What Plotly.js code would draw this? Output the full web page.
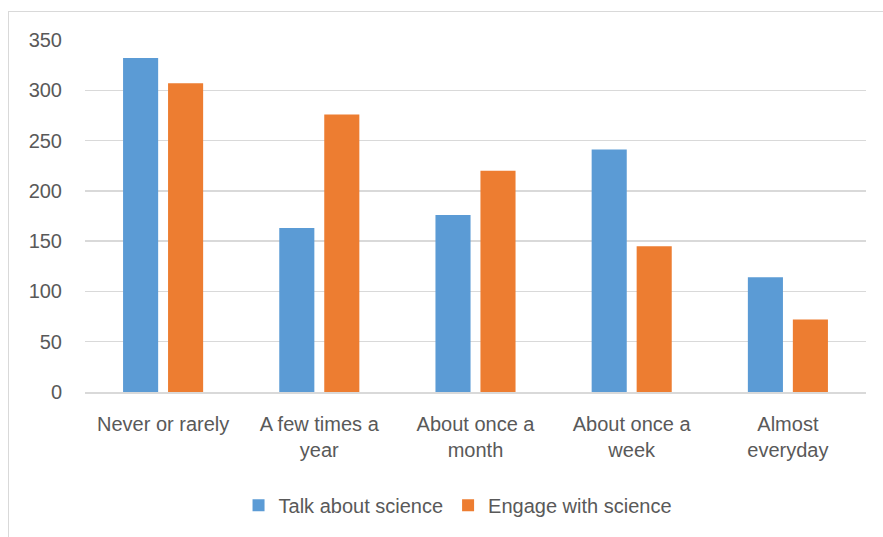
<!DOCTYPE html>
<html><head><meta charset="utf-8">
<script src="https://cdn.plot.ly/plotly-3.0.1.min.js"></script>
<style>
html,body{margin:0;padding:0;background:#fff;}
#wrap{position:relative;width:883px;height:537px;overflow:hidden;}
#chart{width:883px;height:537px;}
#frame{position:absolute;left:8px;top:11px;width:880px;height:540px;border:1px solid #D9D9D9;pointer-events:none;}
</style></head>
<body>
<div id="wrap"><div id="chart"></div><div id="frame"></div></div>
<script>
const categories = ["Never or rarely", "A few times a<br>year", "About once a<br>month", "About once a<br>week", "Almost<br>everyday"];
const talkValues = [332, 163, 176, 241, 114];
const engageValues = [307, 276, 220, 145, 72];
const seriesNames = ["Talk about science", "Engage with science"];
const yTicks = [0, 50, 100, 150, 200, 250, 300, 350];

const fontFam = "Liberation Sans, Arial, sans-serif";
const data = [
  {type:"bar", name:seriesNames[0], x:categories, y:talkValues, marker:{color:"#5B9BD5"}, hoverinfo:"none"},
  {type:"bar", name:seriesNames[1], x:categories, y:engageValues, marker:{color:"#ED7D31"}, hoverinfo:"none"}
];
const layout = {
  width:883, height:537,
  margin:{l:85, r:17, t:40, b:142},
  paper_bgcolor:"#fff", plot_bgcolor:"#fff",
  barmode:"group", bargap:0.424, bargroupgap:0.22,
  font:{family:fontFam, size:20, color:"#595959"},
  xaxis:{type:"category", showgrid:false, showline:true, linecolor:"#D9D9D9", linewidth:1.5, ticks:"", ticklabelstandoff:13, tickfont:{size:20, color:"#595959"}, automargin:false},
  yaxis:{range:[0,350], tickvals:yTicks, showgrid:true, gridcolor:"#D9D9D9", gridwidth:1.3, zeroline:false, showline:false, ticks:"", ticklen:0, ticklabelstandoff:22, tickfont:{size:20, color:"#595959"}, automargin:false},
  showlegend:true,
  legend:{orientation:"h", x:0.477, xanchor:"center", y:-0.322, yanchor:"middle", font:{size:20, color:"#595959"}, itemwidth:30, traceorder:"normal"}
};
Plotly.newPlot("chart", data, layout, {displayModeBar:false, staticPlot:true});
</script>
</body></html>
